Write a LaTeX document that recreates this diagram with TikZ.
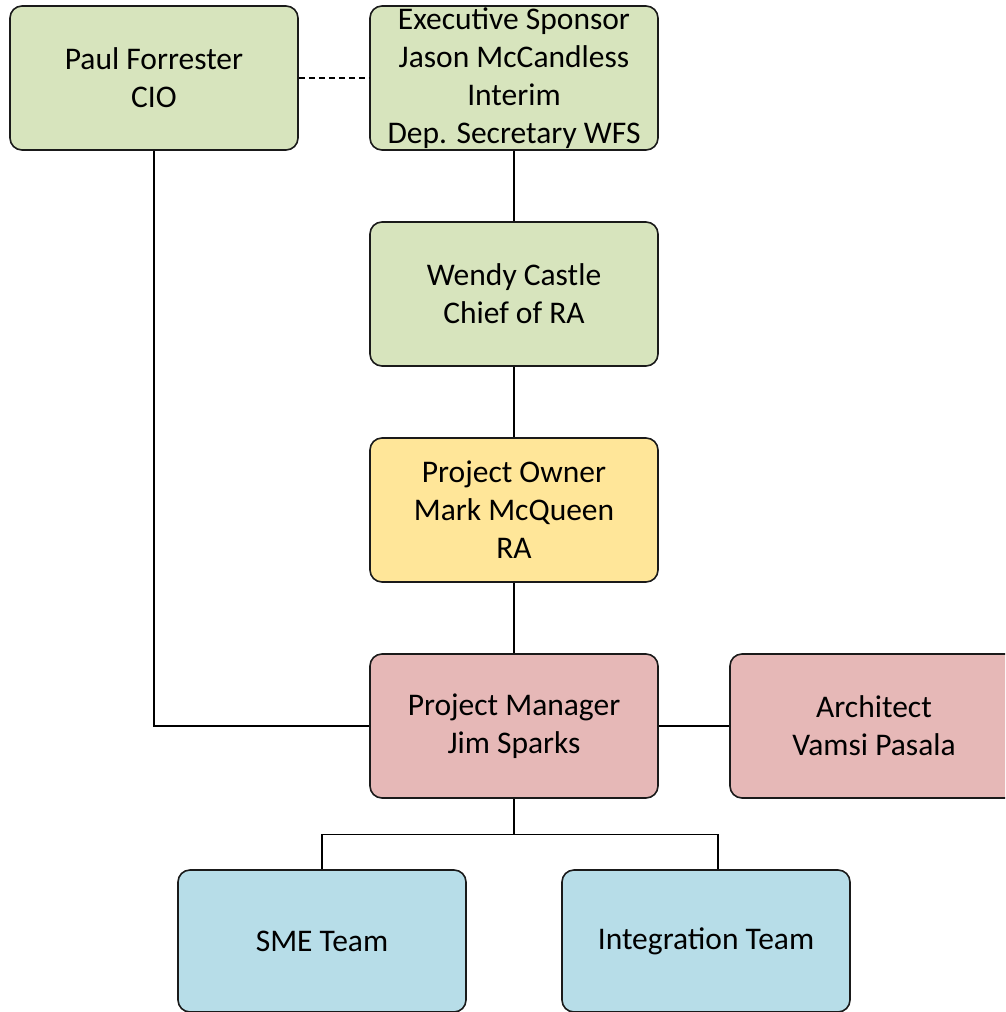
\documentclass[tikz,border=0pt]{standalone}
\usepackage{fontspec}
\setmainfont{Carlito}
\usetikzlibrary{calc}
\definecolor{boxgreen}{HTML}{D7E4BD}
\definecolor{boxyellow}{HTML}{FFE699}
\definecolor{boxpink}{HTML}{E6B8B7}
\definecolor{boxblue}{HTML}{B7DDE8}
\definecolor{edge}{HTML}{1A1A1A}
\tikzset{
  card/.style={draw=edge, line width=1.6pt, rounded corners=12pt,
    minimum width=288pt, minimum height=144pt, inner sep=0pt,
    align=center, text=black,
    font=\fontsize{31.5}{38}\selectfont},
  green/.style={card, fill=boxgreen},
  yellow/.style={card, fill=boxyellow},
  pink/.style={card, fill=boxpink},
  blue/.style={card, fill=boxblue},
  link/.style={draw=black, line width=1.3pt},
}
\begin{document}
\begin{tikzpicture}[x=1pt, y=-1pt]
\useasboundingbox (0,0) rectangle (1005,1012);
\begin{scope}
\clip (0,0) rectangle (1005,1012);
% top row
\node[green] (cio) at (154,78) {Paul Forrester\\CIO};
\node[green] (exec) at (514,78) {Executive Sponsor\\Jason McCandless\\Interim\\Dep. Secretary WFS};
% chain of command
\node[green] (chief) at (514,294) {Wendy Castle\\Chief of RA};
\node[yellow] (owner) at (514,510) {Project Owner\\Mark McQueen\\RA};
\node[pink] (pm) at (514,726) {Project Manager\\Jim Sparks};
\node[pink] (arch) at (874,726) {Architect\\Vamsi Pasala};
% teams
\node[blue, minimum height=142pt] (sme) at (322,941) {SME Team};
\node[blue, minimum height=142pt] (integ) at (706,941) {Integration Team};

% connectors
\draw[link, dashed, dash pattern=on 6pt off 4pt] (cio.east) -- (exec.west);
\draw[link] (exec.south) -- (chief.north);
\draw[link] (chief.south) -- (owner.north);
\draw[link] (owner.south) -- (pm.north);
\draw[link] (cio.south) |- (pm.west);
\draw[link] (pm.east) -- (arch.west);
\draw[link] (pm.south) -- ++(0,36) coordinate (split);
\draw[link] (sme.north) |- (split) -| ([xshift=12pt]integ.north);
\end{scope}
\end{tikzpicture}
\end{document}
